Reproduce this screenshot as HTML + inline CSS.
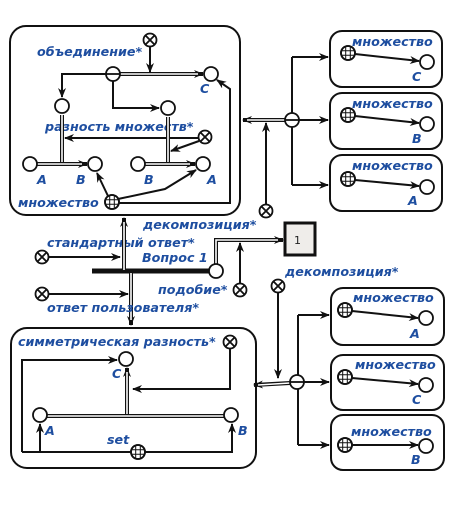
<!DOCTYPE html>
<html><head><meta charset="utf-8"><style>
html,body{margin:0;padding:0;background:#fff;}
svg{display:block}
text{font-family:"DejaVu Sans","Liberation Sans",sans-serif;font-weight:bold;font-style:italic;fill:#1e4ea0;font-size:12.7px}
.k{fill:none;stroke:#111;stroke-width:2}
.d1{fill:none;stroke:#111;stroke-width:4}
.d2{fill:none;stroke:#fff;stroke-width:1.6}
.n{fill:#fff;stroke:#111;stroke-width:1.8}
.box{fill:#fff;stroke:#111;stroke-width:2}
</style></head><body>
<svg width="460" height="506" viewBox="0 0 460 506">
<defs>
<marker id="a" markerWidth="10" markerHeight="8" refX="9" refY="4" orient="auto" markerUnits="userSpaceOnUse">
<path d="M0,0 L10,4 L0,8 L3,4 z" fill="#111"/></marker>
<g id="x"><circle r="6.5" class="n"/><path d="M-4.6,-4.6L4.6,4.6M4.6,-4.6L-4.6,4.6" stroke="#111" stroke-width="1.8"/></g>
<g id="g"><circle r="7" class="n"/><path d="M-7,-2.3H7M-7,2.3H7M-2.3,-7V7M2.3,-7V7" stroke="#111" stroke-width="1"/><circle r="7" fill="none" stroke="#111" stroke-width="1.8"/></g>
<g id="m"><circle r="7" class="n"/><path d="M-7,0H7" stroke="#111" stroke-width="1.8"/></g>
<g id="o"><circle r="7" class="n"/></g>
</defs>

<rect x="10" y="26" width="230" height="189" rx="16" class="box"/>
<text x="37" y="56">объединение*</text>
<use href="#x" x="150" y="40"/>
<path d="M113,74H203" class="d1" marker-end="url(#a)"/><path d="M113,74H198" class="d2"/>
<path d="M150,47V72" class="k" marker-end="url(#a)"/>
<path d="M113,74H62V97" class="k" marker-end="url(#a)"/>
<path d="M113,74V108H159" class="k" marker-end="url(#a)"/>
<use href="#m" x="113" y="74"/>
<use href="#o" x="211" y="74"/>
<text x="200" y="93">C</text>
<use href="#o" x="62" y="106"/>
<use href="#o" x="168" y="108"/>
<text x="45" y="131">разность множеств*</text>
<path d="M198,138H65" class="k" marker-end="url(#a)"/>
<path d="M62,164V115" class="d1"/><path d="M62,164V115" class="d2"/>
<path d="M168,164V117" class="d1"/><path d="M168,164V117" class="d2"/>
<path d="M199,141L171,151" class="k" marker-end="url(#a)"/>
<use href="#x" x="205" y="137"/>
<path d="M37,164H87" class="d1" marker-end="url(#a)"/><path d="M37,164H82" class="d2"/>
<path d="M145,164H195" class="d1" marker-end="url(#a)"/><path d="M145,164H190" class="d2"/>
<use href="#o" x="30" y="164"/><use href="#o" x="95" y="164"/>
<use href="#o" x="138" y="164"/><use href="#o" x="203" y="164"/>
<text x="37" y="184">A</text><text x="76" y="184">B</text>
<text x="144" y="184">B</text><text x="207" y="184">A</text>
<text x="18" y="207">множество</text>
<path d="M108,196L97,173" class="k" marker-end="url(#a)"/>
<path d="M118,199L165,189L196,170" class="k" marker-end="url(#a)"/>
<path d="M119,203H230V89L217,80" class="k" marker-end="url(#a)"/>
<use href="#g" x="112" y="202"/>

<path d="M292,120H243" class="d1" marker-end="url(#a)"/><path d="M292,120H247" class="d2"/>
<path d="M266,204V123" class="k" marker-end="url(#a)"/>
<use href="#x" x="266" y="211"/>
<path d="M292,57V185" class="k"/>
<path d="M292,57H328" class="k" marker-end="url(#a)"/>
<path d="M292,120H328" class="k" marker-end="url(#a)"/>
<path d="M292,185H328" class="k" marker-end="url(#a)"/>
<use href="#m" x="292" y="120"/>
<g>
<rect x="330" y="31" width="112" height="56" rx="12" class="box"/>
<text x="352" y="46">множество</text>
<path d="M355,54L419,61" class="k" marker-end="url(#a)"/>
<use href="#g" x="348" y="53"/><use href="#o" x="427" y="62"/><text x="412" y="81">C</text>
</g>
<g>
<rect x="330" y="93" width="112" height="56" rx="12" class="box"/>
<text x="352" y="108">множество</text>
<path d="M355,116L419,123" class="k" marker-end="url(#a)"/>
<use href="#g" x="348" y="115"/><use href="#o" x="427" y="124"/><text x="412" y="143">B</text>
</g>
<g>
<rect x="330" y="155" width="112" height="56" rx="12" class="box"/>
<text x="352" y="170">множество</text>
<path d="M355,180L419,186" class="k" marker-end="url(#a)"/>
<use href="#g" x="348" y="179"/><use href="#o" x="427" y="187"/><text x="408" y="205">A</text>
</g>

<text x="143" y="229">декомпозиция*</text>
<rect x="285" y="223" width="30" height="32" fill="#efedea" stroke="#111" stroke-width="3"/>
<text x="294" y="244" style="font-style:normal;font-weight:normal;fill:#222;font-size:11px">1</text>
<text x="47" y="247">стандартный ответ*</text>
<text x="142" y="262">Вопрос 1</text>
<path d="M48,257H120" class="k" marker-end="url(#a)"/>
<use href="#x" x="42" y="257"/>
<path d="M92,271H210" stroke="#111" stroke-width="5"/>
<path d="M124,271V218" class="d1" marker-end="url(#a)"/><path d="M124,270V222" class="d2"/>
<path d="M131,271V325" class="d1" marker-end="url(#a)"/><path d="M131,273V320" class="d2"/>
<path d="M216,265V240H283" class="d1" marker-end="url(#a)"/><path d="M216,264V240H278" class="d2"/>
<path d="M240,283V243" class="k" marker-end="url(#a)"/>
<use href="#o" x="216" y="271"/>
<text x="158" y="294">подобие*</text>
<use href="#x" x="240" y="290"/>
<path d="M48,294H128" class="k" marker-end="url(#a)"/>
<use href="#x" x="42" y="294"/>
<text x="47" y="312">ответ пользователя*</text>
<text x="285" y="276">декомпозиция*</text>
<use href="#x" x="278" y="286"/>
<path d="M278,293V378" class="k" marker-end="url(#a)"/>

<rect x="11" y="328" width="245" height="140" rx="16" class="box"/>
<text x="18" y="346">симметрическая разность*</text>
<use href="#x" x="230" y="342"/>
<path d="M22,452V360H117" class="k" marker-end="url(#a)"/>
<path d="M230,349V389H133" class="k" marker-end="url(#a)"/>
<path d="M127,416V368" class="d1" marker-end="url(#a)"/><path d="M127,415V372" class="d2"/>
<path d="M40,416H231" class="d1"/><path d="M44,416H227" class="d2"/>
<use href="#o" x="126" y="359"/><text x="112" y="378">C</text>
<use href="#o" x="40" y="415"/><use href="#o" x="231" y="415"/>
<text x="45" y="435">A</text><text x="238" y="435">B</text>
<text x="107" y="444">set</text>
<path d="M22,452H232V424" class="k" marker-end="url(#a)"/>
<path d="M40,452V424" class="k" marker-end="url(#a)"/>
<use href="#g" x="138" y="452"/>

<path d="M290,383L254,385" class="d1" marker-end="url(#a)"/><path d="M290,383L258,385" class="d2"/>
<path d="M298,315V445" class="k"/>
<path d="M298,315H329" class="k" marker-end="url(#a)"/>
<path d="M298,382H329" class="k" marker-end="url(#a)"/>
<path d="M298,445H329" class="k" marker-end="url(#a)"/>
<use href="#m" x="297" y="382"/>
<g>
<rect x="331" y="288" width="113" height="57" rx="12" class="box"/>
<text x="353" y="302">множество</text>
<path d="M352,311L418,318" class="k" marker-end="url(#a)"/>
<use href="#g" x="345" y="310"/><use href="#o" x="426" y="318"/><text x="410" y="338">A</text>
</g>
<g>
<rect x="331" y="355" width="113" height="55" rx="12" class="box"/>
<text x="355" y="369">множество</text>
<path d="M352,378L418,384" class="k" marker-end="url(#a)"/>
<use href="#g" x="345" y="377"/><use href="#o" x="426" y="385"/><text x="412" y="404">C</text>
</g>
<g>
<rect x="331" y="415" width="113" height="55" rx="12" class="box"/>
<text x="351" y="436">множество</text>
<path d="M352,445L418,445" class="k" marker-end="url(#a)"/>
<use href="#g" x="345" y="445"/><use href="#o" x="426" y="446"/><text x="411" y="464">B</text>
</g>
</svg>
</body></html>
